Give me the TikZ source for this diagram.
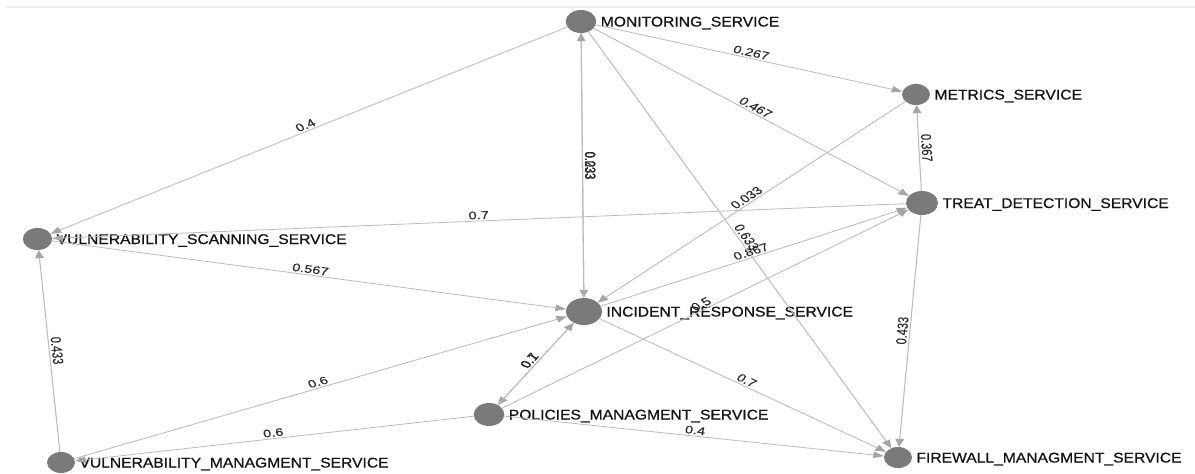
\documentclass[tikz,border=0pt]{standalone}
\usepackage{fontspec}
\setmainfont{Liberation Sans}
\newfontfamily\nodefont[FakeStretch=0.84,FakeBold=0.6]{Liberation Sans}
\newfontfamily\edgefont[FakeBold=0.3]{Liberation Sans}
\usetikzlibrary{arrows.meta}
\definecolor{edgecol}{RGB}{188,188,188}
\definecolor{arrowcol}{RGB}{165,165,165}
\definecolor{vertcol}{RGB}{122,122,122}
\definecolor{toplinecol}{RGB}{236,236,236}
\definecolor{nodetext}{RGB}{20,20,20}
\definecolor{edgetext}{RGB}{45,45,45}
\begin{document}
\begin{tikzpicture}[x=1pt,y=-1pt,
  vtx/.style={circle, fill=vertcol, draw=none, inner sep=0pt},
  nlab/.style={anchor=base west, inner sep=0pt, font=\nodefont\fontsize{14}{14}\selectfont, text=nodetext},
  edge/.style={draw=edgecol, line width=0.8pt, -{Triangle[length=8pt,width=6.5pt,fill=arrowcol,color=arrowcol]}},
  el/.style={midway, sloped, above, inner sep=1.5pt, font=\edgefont\fontsize{11}{11}\selectfont, text=edgetext}
]
\useasboundingbox (0,0) rectangle (1195,474);
\fill[white] (0,0) rectangle (1195,474);
\draw[toplinecol, line width=2pt] (6,7) -- (1195,7);
\begin{scope}[transform canvas={xscale=1.33}, x=0.75188pt, y=-1pt]
  % vertices
  \node[vtx, minimum size=23pt] (mon) at (581,21.5) {};
  \node[vtx, minimum size=21pt] (met) at (916,94.5) {};
  \node[vtx, minimum size=24pt] (treat) at (922,203) {};
  \node[vtx, minimum size=22pt] (vscan) at (37.5,239) {};
  \node[vtx, minimum size=27pt] (inc) at (584,311.5) {};
  \node[vtx, minimum size=23pt] (pol) at (489,414.5) {};
  \node[vtx, minimum size=21pt] (vman) at (61,462.5) {};
  \node[vtx, minimum size=21pt] (fire) at (898,457.5) {};
  % vertex labels
  \node[nlab] (monL) at ([xshift=3pt,yshift=-5pt]mon.east) {MONITORING\_SERVICE};
  \node[nlab] (metL) at ([xshift=3pt,yshift=-5pt]met.east) {METRICS\_SERVICE};
  \node[nlab] (treatL) at ([xshift=3pt,yshift=-5pt]treat.east) {TREAT\_DETECTION\_SERVICE};
  \node[nlab] (vscanL) at ([xshift=3pt,yshift=-5pt]vscan.east) {VULNERABILITY\_SCANNING\_SERVICE};
  \node[nlab] (incL) at ([xshift=3pt,yshift=-5pt]inc.east) {INCIDENT\_RESPONSE\_SERVICE};
  \node[nlab] (polL) at ([xshift=3pt,yshift=-5pt]pol.east) {POLICIES\_MANAGMENT\_SERVICE};
  \node[nlab] (vmanL) at ([xshift=3pt,yshift=-5pt]vman.east) {VULNERABILITY\_MANAGMENT\_SERVICE};
  \node[nlab] (fireL) at ([xshift=3pt,yshift=-5pt]fire.east) {FIREWALL\_MANAGMENT\_SERVICE};
  % edges
  \draw[edge] (mon) -- node[el] (e1) {0.267} (met);
  \draw[edge] (mon) -- node[el] (e2) {0.467} (treat);
  \draw[edge] (mon) -- node[el] (e3) {0.4} (vscan);
  \draw[edge] (mon) -- node[el] (e4) {0.233} (inc);
  \draw[edge] (inc) -- node[el] (e5) {0.033} (mon);
  \draw[edge] (met) -- node[el] (e6) {0.033} (inc);
  \draw[edge] (treat) -- node[el] (e7) {0.367} (met);
  \draw[edge] (treat) -- node[el] (e8) {0.7} (vscan);
  \draw[edge] (vscan) -- node[el] (e9) {0.567} (inc);
  \draw[edge] (inc) -- node[el] (e10) {0.867} (treat);
  \draw[edge] (mon) -- node[el] (e11) {0.633} (fire);
  \draw[edge] (pol) -- node[el] (e12) {0.5} (treat);
  \draw[edge] (inc) -- node[el] (e13) {0.7} (pol);
  \draw[edge] (pol) -- node[el] (e14) {0.1} (inc);
  \draw[edge] (inc) -- node[el] (e15) {0.7} (fire);
  \draw[edge] (pol) -- node[el] (e16) {0.4} (fire);
  \draw[edge] (treat) -- node[el] (e17) {0.433} (fire);
  \draw[edge] (vman) -- node[el] (e18) {0.433} (vscan);
  \draw[edge] (vman) -- node[el] (e19) {0.6} (inc);
  \draw[edge] (pol) -- node[el] (e20) {0.6} (vman);
\end{scope}
\end{tikzpicture}
\end{document}
